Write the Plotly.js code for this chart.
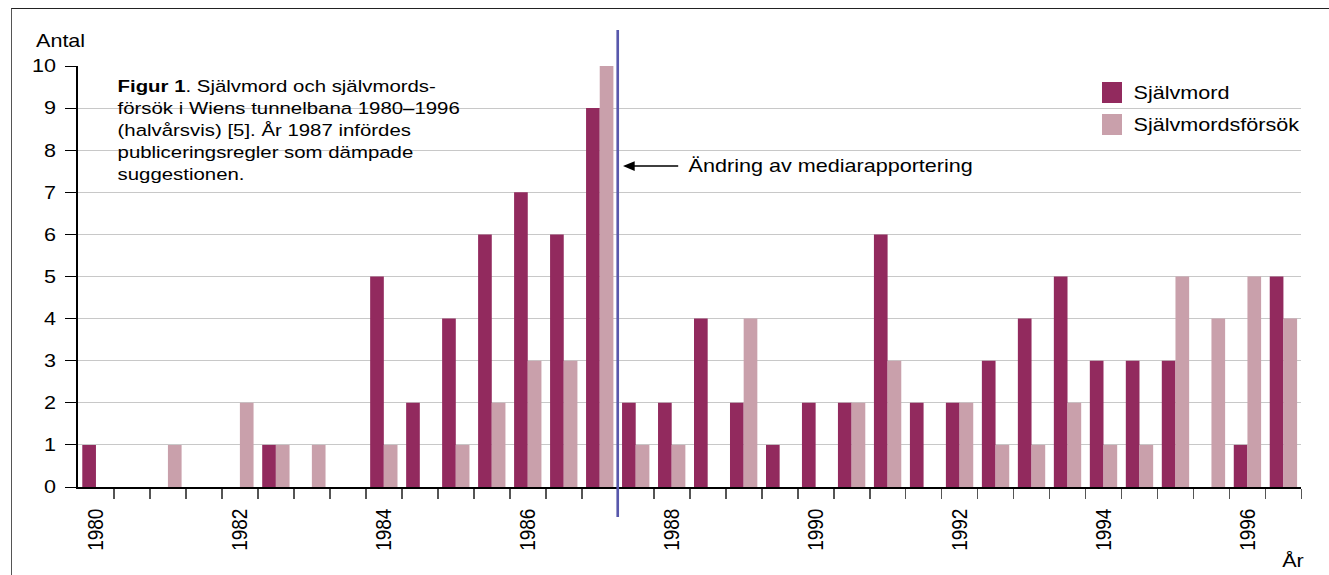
<!DOCTYPE html>
<html>
<head>
<meta charset="utf-8">
<script src="https://cdn.plot.ly/plotly-3.0.1.min.js"></script>
<style>
  html, body { margin: 0; padding: 0; background: #ffffff; overflow: hidden; width: 1329px; height: 575px; }
  #chart { position: absolute; left: 0; top: 0; width: 1108px; height: 575px; transform: scaleX(1.19946); transform-origin: 0 0; }
  #frame { position: absolute; left: 11px; top: 8px; width: 1400px; height: 700px;
           border-top: 1.5px solid #222; border-left: 1.5px solid #555; pointer-events: none; }
</style>
</head>
<body>
<div id="chart"></div>
<div id="frame"></div>
<script>
// Half-year periods (year:half)
const periods = ['1980:1','1980:2','1981:1','1981:2','1982:1','1982:2','1983:1','1983:2',
                 '1984:1','1984:2','1985:1','1985:2','1986:1','1986:2','1987:1','1987:2',
                 '1988:1','1988:2','1989:1','1989:2','1990:1','1990:2','1991:1','1991:2',
                 '1992:1','1992:2','1993:1','1993:2','1994:1','1994:2','1995:1','1995:2',
                 '1996:1','1996:2'];
// Självmord per half-year
const suicides = [1,0, 0,0, 0,1, 0,0, 5,2, 4,6, 7,6, 9,2, 2,4, 2,1, 2,2, 6,2, 2,3, 4,5, 3,3, 3,0, 1,5];
// Självmordsförsök per half-year
const attempts = [0,0, 1,0, 2,1, 1,0, 1,0, 1,2, 3,3, 10,1, 1,0, 4,0, 0,2, 3,0, 2,1, 1,2, 1,1, 5,4, 5,4];
// Tick labels on the x axis
const tickYears = ['1980','1982','1984','1986','1988','1990','1992','1994','1996'];
const yTicks = [0,1,2,3,4,5,6,7,8,9,10];
const changePeriod = '1987:2'; // first half-year after the change in media reporting
const seriesNames = ['Självmord', 'Självmordsförsök'];
const seriesColors = ['#922a5e', '#c9a0ab'];

const toX = p => { const [y, h] = p.split(':'); return Number(y) + (h === '2' ? 0.5 : 0); };
const xs = periods.map(toX);
const boundaries = xs.map(x => x + 0.25);
const xRange = [xs[0] - 0.25, xs[xs.length - 1] + 0.25];

// geometry helpers (image px -> paper)
const S = 1.19946, W = 1108, H = 575, ML = 65, MR = 23, MT = 66, MB = 88;
const PW = W - ML - MR, PH = H - MT - MB;
const xp = ix => (ix / S - ML) / PW;
const yp = iy => (H - MB - iy) / PH;

const fontMain = 'Liberation Sans, Arial, Helvetica, sans-serif';

const traces = [
  { type: 'bar', name: seriesNames[0], x: xs, y: suicides,
    marker: { color: seriesColors[0] }, hoverinfo: 'skip' },
  { type: 'bar', name: seriesNames[1], x: xs, y: attempts,
    marker: { color: seriesColors[1] }, hoverinfo: 'skip' }
];

// legend drawn as key squares + labels (larger squares than Plotly's built-in legend)
const legendRows = [{ top: 82, bottom: 103 }, { top: 114, bottom: 135 }];
const legendShapes = seriesNames.map((n, i) => ({
  type: 'rect', xref: 'paper', yref: 'paper',
  x0: xp(1102), x1: xp(1122), y0: yp(legendRows[i].bottom), y1: yp(legendRows[i].top),
  fillcolor: seriesColors[i], line: { width: 0 }
}));
const legendLabels = seriesNames.map((n, i) => ({
  xref: 'paper', yref: 'paper', x: xp(1131), y: yp((legendRows[i].top + legendRows[i].bottom) / 2),
  xanchor: 'left', yanchor: 'middle', text: n, showarrow: false,
  font: { family: fontMain, size: 18, color: '#000' }
}));

const layout = {
  width: W, height: H,
  margin: { l: ML, r: MR, t: MT, b: MB, pad: 0, autoexpand: false },
  paper_bgcolor: 'rgba(0,0,0,0)', plot_bgcolor: '#ffffff',
  barmode: 'group', bargap: 0.24, bargroupgap: 0,
  font: { family: fontMain, size: 18, color: '#000' },
  showlegend: false,
  xaxis: {
    type: 'linear', range: xRange, fixedrange: true,
    showline: true, linecolor: '#000', linewidth: 2,
    showgrid: false, zeroline: false,
    tickmode: 'array', tickvals: tickYears.map(Number), ticktext: tickYears,
    ticks: 'outside', ticklen: 0, tickwidth: 0, tickangle: -90,
    ticklabelstandoff: 12,
    tickfont: { family: fontMain, size: 19, color: '#000' },
    minor: { tickmode: 'array', tickvals: boundaries, ticks: 'outside', ticklen: 10,
             tickwidth: 1.5, tickcolor: '#555', showgrid: false }
  },
  yaxis: {
    range: [0, 10], fixedrange: true,
    tickmode: 'array', tickvals: yTicks, ticktext: yTicks.map(String),
    ticks: 'outside', ticklen: 9, tickwidth: 1, tickcolor: '#000',
    ticklabelstandoff: 4,
    tickfont: { family: fontMain, size: 18, color: '#000' },
    showline: true, linecolor: '#000', linewidth: 1.8,
    showgrid: true, gridcolor: '#c8c8c8', gridwidth: 1,
    zeroline: false
  },
  shapes: [
    // vertical marker line: change in media reporting
    { type: 'line', xref: 'x', yref: 'paper',
      x0: toX(changePeriod) - 0.25, x1: toX(changePeriod) - 0.25, y0: yp(517), y1: yp(30),
      line: { color: '#5858ac', width: 2.2 } }
  ].concat(legendShapes),
  annotations: [
    { xref: 'paper', yref: 'paper', x: xp(34), y: yp(53), xanchor: 'left', yanchor: 'bottom',
      text: 'Antal', showarrow: false, font: { family: fontMain, size: 18, color: '#000' } },
    { xref: 'paper', yref: 'paper', x: xp(1306), y: yp(573), xanchor: 'right', yanchor: 'bottom',
      text: 'År', showarrow: false, font: { family: fontMain, size: 18, color: '#000' } },
    { xref: 'paper', yref: 'paper', x: xp(115), y: yp(75), xanchor: 'left', yanchor: 'top',
      align: 'left', showarrow: false,
      text: '<b>Figur 1</b>. Självmord och självmords-<br>försök i Wiens tunnelbana 1980–1996<br>(halvårsvis) [5]. År 1987 infördes<br>publiceringsregler som dämpade<br>suggestionen.',
      font: { family: fontMain, size: 17, color: '#000' } },
    { xref: 'paper', yref: 'paper', x: xp(623), y: yp(166), ax: (680 - 623) / S, ay: 0,
      text: '', showarrow: true, arrowhead: 2, arrowsize: 1.3, arrowwidth: 1.5, arrowcolor: '#000',
      standoff: 0 },
    { xref: 'paper', yref: 'paper', x: xp(686), y: yp(166), xanchor: 'left', yanchor: 'middle',
      text: 'Ändring av mediarapportering', showarrow: false,
      font: { family: fontMain, size: 18, color: '#000' } }
  ].concat(legendLabels)
};

Plotly.newPlot('chart', traces, layout, { displayModeBar: false, responsive: false, staticPlot: true });
</script>
</body>
</html>
